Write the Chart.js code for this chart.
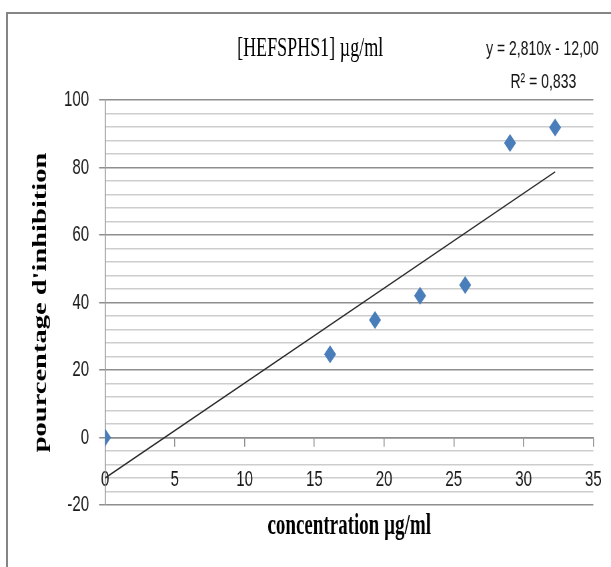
<!DOCTYPE html>
<html>
<head>
<meta charset="utf-8">
<script src="https://cdn.jsdelivr.net/npm/chart.js@4"></script>
<style>
  html, body { margin: 0; padding: 0; background: #fff; overflow: hidden; }
  #frame { position: absolute; left: 6px; top: 12px; width: 700px; height: 700px; border: 2px solid #858585; box-sizing: border-box; }
  #wrap { position: absolute; left: 0; top: 0; width: 611px; height: 378px; transform: scaleY(1.5); transform-origin: 0 0; }
</style>
</head>
<body>
<div id="frame"></div>
<div id="wrap"><canvas id="c" width="611" height="378"></canvas></div>
<script>
// ---- data ----
const concentrations = [0, 16.13, 19.35, 22.58, 25.81, 29.03, 32.26];
const inhibition     = [0, 24.7, 34.8, 42.0, 45.2, 87.2, 91.8];
const trendX = [0, 32.26];
const trendY = [-12.0, 78.7];
const xTickValues = [0, 5, 10, 15, 20, 25, 30, 35];
const yTickLabels = [-20, 0, 20, 40, 60, 80, 100];
const chartTitle = '[HEFSPHS1] µg/ml';
const xTitle = 'concentration µg/ml';
const yTitle = "pourcentage d'inhibition";
const equationText = 'y = 2,810x - 12,00';
const r2Text = 'R² = 0,833';

const pointData = concentrations.map((x, i) => ({ x: x, y: inhibition[i] }));
const trendData = trendX.map((x, i) => ({ x: x, y: trendY[i] }));

const MAJOR = '#8e8e8e';
const MINOR = '#cdcdcd';

const equationPlugin = {
  id: 'equation',
  afterDraw(chart) {
    const ctx = chart.ctx;
    ctx.save();
    ctx.fillStyle = '#111';
    ctx.font = '14px "Liberation Sans", Arial, sans-serif';
    ctx.textAlign = 'center';
    ctx.textBaseline = 'middle';
    ctx.fillText(equationText, 542, 32.5);
    ctx.fillText(r2Text, 543, 54.7);
    ctx.restore();
  }
};

new Chart(document.getElementById('c'), {
  type: 'scatter',
  data: {
    datasets: [
      {
        label: 'points',
        data: pointData,
        pointStyle: 'rectRot',
        pointRadius: 6,
        pointHoverRadius: 6,
        pointBorderWidth: 0,
        backgroundColor: '#4a7ebb',
        borderColor: '#4a7ebb'
      },
      {
        label: 'trend',
        data: trendData,
        showLine: true,
        borderColor: '#2a2a2a',
        borderWidth: 1,
        pointRadius: 0,
        pointHoverRadius: 0,
        fill: false
      }
    ]
  },
  options: {
    responsive: false,
    animation: false,
    devicePixelRatio: 1.5,
    layout: { padding: { left: 27, right: 18, top: 0, bottom: 41.3 } },
    plugins: {
      legend: { display: false },
      tooltip: { enabled: false },
      title: {
        display: true,
        text: chartTitle,
        color: '#000',
        font: { family: '"Liberation Serif", "Times New Roman", serif', size: 18, weight: 'normal', lineHeight: 1.2 },
        padding: { top: 22, bottom: 23 }
      }
    },
    scales: {
      x: {
        type: 'linear',
        position: { y: 0 },
        min: 0,
        max: 35,
        afterBuildTicks: (scale) => { scale.ticks = xTickValues.map(v => ({ value: v })); },
        afterFit: (scale) => { scale.height = 41.3; scale.paddingLeft = 0; scale.paddingRight = 0; },
        ticks: {
          color: '#1a1a1a',
          padding: 14,
          maxRotation: 0,
          autoSkip: false,
          font: { family: '"Liberation Sans", Arial, sans-serif', size: 15, lineHeight: 1.2 },
          callback: (v) => String(v)
        },
        grid: {
          drawOnChartArea: false,
          drawTicks: true,
          tickLength: 5.5,
          tickColor: MAJOR,
          color: MAJOR
        },
        border: { display: true, color: MAJOR, width: 1 },
        title: {
          display: true,
          text: xTitle,
          color: '#000',
          font: { family: '"Liberation Serif", "Times New Roman", serif', size: 19, weight: 'bold', lineHeight: 1.2 },
          padding: { top: 0, bottom: -29.4 }
        }
      },
      y: {
        type: 'linear',
        position: 'left',
        min: -20,
        max: 100,
        afterFit: (scale) => { scale.width = 78; },
        ticks: {
          stepSize: 4,
          autoSkip: false,
          color: '#1a1a1a',
          padding: 10,
          font: { family: '"Liberation Sans", Arial, sans-serif', size: 15, lineHeight: 1.2 },
          callback: (v) => (yTickLabels.includes(v) ? String(v) : '')
        },
        grid: {
          drawOnChartArea: true,
          drawTicks: true,
          tickLength: 6,
          color: (ctx) => (ctx.tick && yTickLabels.includes(ctx.tick.value) ? MAJOR : MINOR),
          tickColor: (ctx) => (ctx.tick && yTickLabels.includes(ctx.tick.value) ? MAJOR : 'rgba(0,0,0,0)')
        },
        border: { display: true, color: MAJOR, width: 1 },
        title: {
          display: true,
          text: yTitle,
          color: '#000',
          font: { family: '"Liberation Serif", "Times New Roman", serif', size: 19, weight: 'bold', lineHeight: 1.2 },
          padding: { top: 2.6, bottom: 0 }
        }
      }
    }
  },
  plugins: [equationPlugin]
});
</script>
</body>
</html>
